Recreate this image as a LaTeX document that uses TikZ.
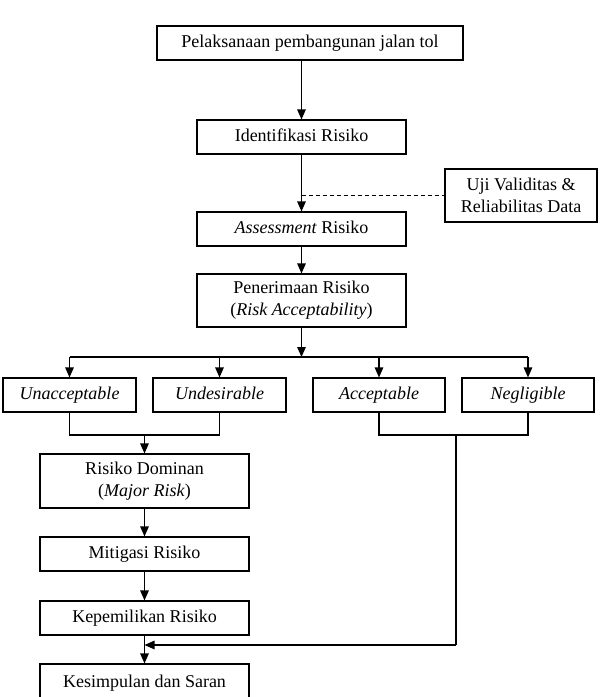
\documentclass[tikz,border=0pt]{standalone}
\usepackage{fontspec}
\setmainfont{Liberation Serif}
\usetikzlibrary{arrows.meta}
\begin{document}
\begin{tikzpicture}[x=1pt,y=-1pt,
  box/.style={draw, line width=1.1pt, inner sep=0pt, align=center,
    font=\fontsize{18}{22}\selectfont},
  one/.style={box, text height=12.5pt, text depth=4pt},
  conn/.style={line width=1.3pt},
  arr/.style={conn, -{Triangle[length=10pt,width=8.5pt]}}]
\useasboundingbox (0,0) rectangle (600,697);
\clip (0,0) rectangle (600,697);
\node[one, minimum width=306pt, minimum height=34pt] (top) at (310,43) {Pelaksanaan pembangunan jalan tol};
\node[one, minimum width=209pt, minimum height=34pt] (ident) at (301.5,137) {Identifikasi Risiko};
\node[box, minimum width=152pt, minimum height=53pt] (uji) at (521,195.5) {Uji Validitas \&\\Reliabilitas Data};
\node[one, minimum width=209pt, minimum height=34pt] (assess) at (301.5,229) {\textit{Assessment} Risiko};
\node[box, minimum width=209pt, minimum height=53pt] (terima) at (301.5,300.5) {Penerimaan Risiko\\(\textit{Risk Acceptability})};
\node[one, minimum width=133pt, minimum height=34pt] (unacc) at (69.5,395) {\textit{Unacceptable}};
\node[one, minimum width=133pt, minimum height=34pt] (undes) at (219.5,395) {\textit{Undesirable}};
\node[one, minimum width=132pt, minimum height=34pt] (acc) at (379,395) {\textit{Acceptable}};
\node[one, minimum width=132pt, minimum height=34pt] (neg) at (528,395) {\textit{Negligible}};
\node[box, minimum width=209pt, minimum height=54pt] (dom) at (144.5,481) {Risiko Dominan\\(\textit{Major Risk})};
\node[one, minimum width=209pt, minimum height=34pt] (mit) at (144.5,554) {Mitigasi Risiko};
\node[one, minimum width=209pt, minimum height=34pt] (kep) at (144.5,618) {Kepemilikan Risiko};
\node[one, minimum width=209pt, minimum height=38pt] (kes) at (144.5,683) {Kesimpulan dan Saran};
% coordinates
\coordinate (split) at (301.5,357);
\coordinate (bl) at (69.5,357);
\coordinate (br) at (528,357);
\coordinate (m1) at (144.5,435);
\coordinate (m2) at (456,435);
\coordinate (ret) at (456,645);
\coordinate (retend) at (144.5,645);
% connectors
\draw[arr] (ident.north |- top.south) -- (ident.north);
\draw[arr] (ident.south) -- (assess.north);
\draw[conn, dashed, line width=0.9pt, dash pattern=on 4pt off 3pt] (ident.south |- uji.west) -- (uji.west);
\draw[arr] (assess.south) -- (terima.north);
\draw[arr] (terima.south) -- (split);
\draw[conn] (bl) -- (br);
\draw[arr] (bl) -- (unacc.north);
\draw[arr] (undes.north |- split) -- (undes.north);
\draw[arr] (acc.north |- split) -- (acc.north);
\draw[arr] (br) -- (neg.north);
\draw[conn] (unacc.south) -- (unacc.south |- m1) -- (undes.south |- m1) -- (undes.south);
\draw[arr] (m1) -- (dom.north);
\draw[conn] (acc.south) -- (acc.south |- m2) -- (neg.south |- m2) -- (neg.south);
\draw[conn] (m2) -- (ret);
\draw[arr] (ret) -- (retend);
\draw[arr] (dom.south) -- (mit.north);
\draw[arr] (mit.south) -- (kep.north);
\draw[arr] (kep.south) -- (kes.north);
\end{tikzpicture}
\end{document}
